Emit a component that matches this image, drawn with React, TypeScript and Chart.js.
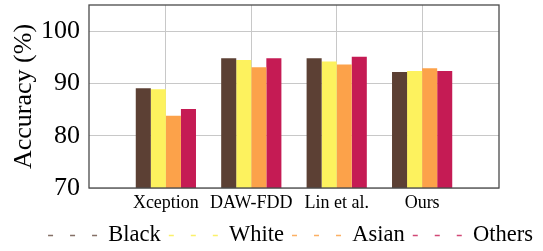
import React, { useEffect, useRef } from "react";
import { Chart, registerables } from "chart.js";

Chart.register(...registerables);

const categories = ["Xception", "DAW-FDD", "Lin et al.", "Ours"];
const seriesNames = ["Black", "White", "Asian", "Others"];
const blackValues = [89.1, 94.8, 94.8, 92.2];
const whiteValues = [88.9, 94.5, 94.2, 92.4];
const asianValues = [83.8, 93.1, 93.6, 92.9];
const othersValues = [85.1, 94.8, 95.1, 92.4];
const yTickValues = [70, 80, 90, 100];

const barColors = ["#5c4034", "#fdf25e", "#fca24a", "#c51b54"];
const legendColors = [
  "rgba(92,64,52,0.75)",
  "rgba(250,238,80,0.85)",
  "rgba(252,162,74,0.85)",
  "rgba(197,27,84,0.8)",
];

const FONT = '"Liberation Serif", "Times New Roman", serif';

const framePlugin = {
  id: "frame",
  afterDatasetsDraw(chart: any) {
    const { ctx, chartArea } = chart;
    ctx.save();
    ctx.strokeStyle = "#4a4a4a";
    ctx.lineWidth = 1.3;
    ctx.strokeRect(
      chartArea.left,
      chartArea.top,
      chartArea.right - chartArea.left,
      chartArea.bottom - chartArea.top
    );
    ctx.restore();
  },
};

export default function App() {
  const ref = useRef<HTMLCanvasElement>(null);

  useEffect(() => {
    let chart: any = null;
    let cancelled = false;
    const build = () => {
      if (cancelled || !ref.current) return;
      const all = [blackValues, whiteValues, asianValues, othersValues];
      chart = new Chart(ref.current, {
        type: "bar",
        data: {
          datasets: all.map((vals, di) => ({
            label: seriesNames[di],
            data: vals.map((v, i) => ({ x: i + 1, y: v })),
            backgroundColor: barColors[di],
            borderWidth: 0,
            categoryPercentage: 0.705,
            barPercentage: 1,
          })),
        },
        options: {
          responsive: false,
          animation: false,
          layout: { padding: { top: 5, left: 0, right: 2, bottom: -5.75 } },
          plugins: {
            tooltip: { enabled: false },
            legend: {
              position: "bottom",
              align: "end",
              labels: {
                font: { family: FONT, size: 22.5 },
                color: "#000",
                usePointStyle: true,
                pointStyleWidth: 49,
                padding: 8,
                generateLabels: () =>
                  seriesNames.map((name, i) => ({
                    text: name,
                    fillStyle: "rgba(0,0,0,0)",
                    strokeStyle: legendColors[i],
                    lineWidth: 1.5,
                    lineDash: [5, 17],
                    pointStyle: "line",
                    datasetIndex: i,
                    hidden: false,
                    fontColor: "#000",
                  })),
              },
            },
          },
          scales: {
            x: {
              type: "linear",
              min: 0.1,
              max: 4.9,
              offset: false,
              afterBuildTicks: (s: any) => {
                s.ticks = categories.map((_, i) => ({ value: i + 1 }));
              },
              afterFit: (s: any) => {
                s.height = 28.25;
                s.paddingLeft = 0;
                s.paddingRight = 0;
              },
              ticks: {
                callback: (v: any) => categories[Number(v) - 1] ?? "",
                font: { family: FONT, size: 18 },
                color: "#000",
                padding: 4,
                maxRotation: 0,
                autoSkip: false,
              },
              grid: { color: "#c8c8c8", lineWidth: 1, drawTicks: false, offset: false },
              border: { display: false },
            },
            y: {
              min: 70,
              max: 105,
              afterBuildTicks: (s: any) => {
                s.ticks = yTickValues.map((v) => ({ value: v }));
              },
              afterFit: (s: any) => {
                s.width = 89;
                s.paddingTop = 0;
                s.paddingBottom = 0;
              },
              ticks: {
                font: { family: FONT, size: 26 },
                color: "#000",
                padding: 9,
              },
              grid: { color: "#c8c8c8", lineWidth: 1, drawTicks: false },
              border: { display: false },
              title: {
                display: true,
                text: "Accuracy (%)",
                font: { family: FONT, size: 26 },
                color: "#000",
                padding: { top: 9, bottom: 0 },
              },
            },
            yR: {
              type: "linear",
              position: "right",
              display: true,
              grid: { display: false },
              ticks: { display: false },
              border: { display: false },
              afterFit: (s: any) => {
                s.width = 42;
                s.paddingTop = 0;
                s.paddingBottom = 0;
              },
            },
          },
        } as any,
        plugins: [framePlugin],
      });
    };
    const fonts: any = (document as any).fonts;
    if (fonts && fonts.load) {
      Promise.all([
        fonts.load('26px "Liberation Serif"'),
        fonts.load('18px "Liberation Serif"'),
        fonts.load('22.5px "Liberation Serif"'),
      ])
        .catch(() => null)
        .then(build);
    } else {
      build();
    }
    return () => {
      cancelled = true;
      if (chart) chart.destroy();
    };
  }, []);

  return (
    <div style={{ position: "fixed", left: 0, top: 0, width: 543, height: 251, background: "#fff" }}>
      <canvas ref={ref} width={543} height={251} />
    </div>
  );
}
